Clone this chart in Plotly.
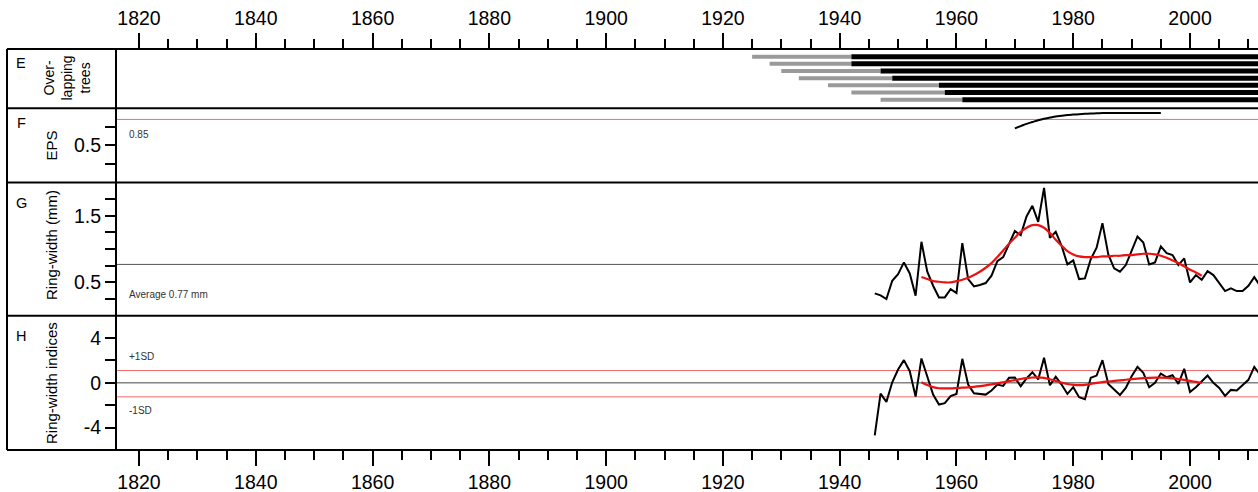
import plotly.graph_objects as go

# ---------------- data ----------------
tree_ids = [1, 2, 3, 4, 5, 6, 7]
tree_gray_start = [1925, 1928, 1930, 1933, 1938, 1942, 1947]
tree_black_start = [1942, 1942, 1947, 1949, 1957, 1958, 1961]
tree_end = [2012, 2012, 2012, 2012, 2012, 2012, 2012]

eps_years = list(range(1970, 1996))
eps_values = [0.73, 0.76, 0.79, 0.815, 0.84, 0.86, 0.875, 0.89, 0.90, 0.91,
              0.915, 0.92, 0.925, 0.93, 0.932, 0.935, 0.936, 0.937, 0.937, 0.937,
              0.937, 0.936, 0.936, 0.935, 0.935, 0.935]
eps_threshold = 0.85

rw_years = list(range(1946, 2013))
ring_width = [0.335, 0.305, 0.25, 0.524,
              0.624, 0.80, 0.635, 0.30, 1.11, 0.66, 0.45, 0.275, 0.275, 0.40,
              0.34, 1.09, 0.55, 0.44, 0.46, 0.49, 0.60, 0.82, 0.88, 1.07,
              1.27, 1.21, 1.49, 1.65, 1.41, 1.92, 1.17, 1.26, 1.05, 0.77,
              0.83, 0.55, 0.56, 0.85, 1.02, 1.39, 0.92, 0.71, 0.66, 0.76,
              0.97, 1.19, 1.10, 0.77, 0.80, 1.04, 0.94, 0.91, 0.76, 0.86,
              0.50, 0.61, 0.54, 0.67, 0.61, 0.49, 0.37, 0.41, 0.37, 0.37,
              0.45, 0.58, 0.45]
rw_average = 0.77

spline_years = list(range(1954, 2003))
rw_spline = [0.58, 0.55, 0.52, 0.51, 0.50, 0.50,
             0.52, 0.54, 0.57, 0.61, 0.66, 0.72, 0.79, 0.88, 0.98, 1.08,
             1.17, 1.26, 1.32, 1.36, 1.36, 1.32, 1.24, 1.14, 1.05, 0.97,
             0.92, 0.89, 0.88, 0.88, 0.88, 0.89, 0.89, 0.90, 0.90, 0.91,
             0.91, 0.92, 0.93, 0.93, 0.92, 0.90, 0.87, 0.83, 0.79, 0.74,
             0.69, 0.65, 0.60]

rw_index = [-4.69, -0.96, -1.70, 0.05,
            1.19, 2.03, 1.04, -1.23, 2.18, 0.50, -1.05, -1.94, -1.82, -1.19,
            -0.99, 2.15, -0.15, -0.93, -0.96, -1.05, -0.69, -0.15, -0.27, 0.45,
            0.47, -0.30, 0.39, 0.95, 0.30, 2.24, -0.21, 0.54, -0.15, -0.99,
            -0.39, -1.29, -1.47, 0.45, 0.65, 2.03, -0.09, -0.60, -1.08, -0.45,
            0.59, 1.43, 0.90, -0.39, 0.0, 0.83, 0.50, 0.68, -0.09, 1.25,
            -0.81, -0.39, 0.15, 0.65, 0.0, -0.45, -1.17, -0.63, -0.69, -0.21,
            0.27, 1.43, 0.74]
idx_spline = [0.05, -0.20, -0.38, -0.48, -0.50, -0.49,
              -0.46, -0.43, -0.40, -0.36, -0.30, -0.22, -0.13, -0.04, 0.05, 0.15,
              0.25, 0.34, 0.42, 0.48, 0.49, 0.44, 0.32, 0.17, 0.02, -0.10,
              -0.18, -0.20, -0.18, -0.10, 0.0, 0.07, 0.12, 0.17, 0.22, 0.28,
              0.33, 0.38, 0.42, 0.45, 0.46, 0.46, 0.44, 0.40, 0.34, 0.26,
              0.17, 0.08, 0.0]
plus_sd = 1.1
minus_sd = -1.25

x_major_ticks = [1820, 1840, 1860, 1880, 1900, 1920, 1940, 1960, 1980, 2000]
eps_tickvals = [0.25, 0.5, 0.75]
eps_ticktext = ["", "0.5", ""]
rw_tickvals = [0.25, 0.5, 0.75, 1.0, 1.25, 1.5, 1.75]
rw_ticktext = ["", "0.5", "", "", "", "1.5", ""]
idx_tickvals = [-4, -2, 0, 2, 4]
idx_ticktext = ["-4", "", "0", "", "4"]

# ---------------- figure ----------------
W, H = 1258, 492
ML, MT, MB = 116, 49, 42
plot_w = W - ML
plot_h = H - MT - MB
FONT = "Arial, Liberation Sans, sans-serif"


def py(ypx):
    return (H - MB - ypx) / plot_h


def px(xpx):
    return (xpx - ML) / plot_w


bounds = [49, 108.3, 182.5, 315.7, 450]
dom_E = [py(bounds[1]), 1.0]
dom_F = [py(bounds[2]), py(bounds[1])]
dom_G = [py(bounds[3]), py(bounds[2])]
dom_H = [0.0, py(bounds[3])]

x_range = [1816.06, 2011.64]

fig = go.Figure()

# Panel E: overlapping trees
gx, gy, bx, by = [], [], [], []
for t, g0, b0, e in zip(tree_ids, tree_gray_start, tree_black_start, tree_end):
    gx += [g0, b0, None]
    gy += [t, t, None]
    bx += [b0, e, None]
    by += [t, t, None]
fig.add_trace(go.Scatter(x=gx, y=gy, mode="lines", xaxis="x", yaxis="y",
                         line=dict(color="#9a9a9a", width=4), showlegend=False))
fig.add_trace(go.Scatter(x=bx, y=by, mode="lines", xaxis="x", yaxis="y",
                         line=dict(color="black", width=5), showlegend=False))

# Panel F: EPS
fig.add_trace(go.Scatter(x=eps_years, y=eps_values, mode="lines", xaxis="x2", yaxis="y2",
                         line=dict(color="black", width=2, shape="spline"), showlegend=False))

# Panel G: ring width
fig.add_trace(go.Scatter(x=rw_years, y=ring_width, mode="lines", xaxis="x3", yaxis="y3",
                         line=dict(color="black", width=2), showlegend=False))
fig.add_trace(go.Scatter(x=spline_years, y=rw_spline, mode="lines", xaxis="x3", yaxis="y3",
                         line=dict(color="#ee1111", width=2.2, shape="spline"), showlegend=False))

# Panel H: indices
fig.add_trace(go.Scatter(x=rw_years, y=rw_index, mode="lines", xaxis="x4", yaxis="y4",
                         line=dict(color="black", width=2), showlegend=False))
fig.add_trace(go.Scatter(x=spline_years, y=idx_spline, mode="lines", xaxis="x4", yaxis="y4",
                         line=dict(color="#ee1111", width=2.2, shape="spline"), showlegend=False))

shapes = []


def hline(yval, xa, ya, color, width=1):
    shapes.append(dict(type="line", xref=f"{xa} domain", yref=ya, x0=0, x1=1,
                       y0=yval, y1=yval, line=dict(color=color, width=width), layer="below"))


hline(eps_threshold, "x2", "y2", "#f26b6b")
hline(rw_average, "x3", "y3", "#555555")
hline(0, "x4", "y4", "#444444")
hline(plus_sd, "x4", "y4", "#f26b6b")
hline(minus_sd, "x4", "y4", "#f26b6b")

# frame lines
x_left = px(7)
for b in bounds:
    shapes.append(dict(type="line", xref="paper", yref="paper", x0=x_left, x1=1.0,
                       y0=py(b), y1=py(b), line=dict(color="black", width=2)))
shapes.append(dict(type="line", xref="paper", yref="paper", x0=x_left, x1=x_left,
                   y0=0, y1=1, line=dict(color="black", width=2)))
shapes.append(dict(type="line", xref="paper", yref="paper", x0=0, x1=0,
                   y0=0, y1=1, line=dict(color="black", width=2)))

annotations = []


def txt(xpx, ypx, text, size, angle=0, color="black", xanchor="center", align="center"):
    annotations.append(dict(xref="paper", yref="paper", x=px(xpx), y=py(ypx), text=text,
                            showarrow=False, textangle=angle, xanchor=xanchor, yanchor="middle",
                            align=align, font=dict(family=FONT, size=size, color=color)))


# panel letters
txt(21, 63, "E", 14.5)
txt(21, 123, "F", 14.5)
txt(21, 203, "G", 14.5)
txt(21, 336, "H", 14.5)
# axis titles
txt(66, 78.5, "Over-<br>lapping<br>trees", 14, angle=-90)
txt(51, 145.5, "EPS", 15, angle=-90)
txt(51, 245, "Ring-width (mm)", 15, angle=-90)
txt(51, 383, "Ring-width indices", 15, angle=-90)
# in-panel labels
txt(127, 134, "0.85", 10, color="#333333", xanchor="left")
txt(127, 294.5, "Average 0.77 mm", 10, color="#333333", xanchor="left")
txt(127, 356.5, "+1SD", 10, color="#333333", xanchor="left")
txt(127, 410.5, "-1SD", 10, color="#333333", xanchor="left")

common_x = dict(range=x_range, showgrid=False, zeroline=False, showline=False)
tick_x = dict(tickvals=x_major_ticks, ticks="outside", ticklen=15, tickwidth=2,
              tickcolor="black", tickfont=dict(family=FONT, size=19.5, color="black"),
              minor=dict(dtick=5, tick0=1820, ticks="outside", ticklen=9, tickwidth=2,
                         tickcolor="black", showgrid=False))
ytick = dict(ticks="outside", ticklen=10, tickwidth=2, tickcolor="black",
             tickfont=dict(family=FONT, size=19.5, color="black"),
             showgrid=False, zeroline=False, showline=False)

fig.update_layout(
    width=W, height=H,
    margin=dict(l=ML, r=0, t=MT, b=MB, pad=0),
    paper_bgcolor="white", plot_bgcolor="white",
    font=dict(family=FONT),
    showlegend=False,
    xaxis=dict(**common_x, **tick_x, side="top", anchor="y", domain=[0, 1]),
    xaxis2=dict(**common_x, anchor="y2", matches="x", showticklabels=False, ticks=""),
    xaxis3=dict(**common_x, anchor="y3", matches="x", showticklabels=False, ticks=""),
    xaxis4=dict(**common_x, **tick_x, side="bottom", anchor="y4", matches="x"),
    yaxis=dict(domain=dom_E, range=[8.2, -0.07], showticklabels=False, ticks="",
               showgrid=False, zeroline=False, showline=False, anchor="x"),
    yaxis2=dict(domain=dom_F, range=[0, 1], tickvals=eps_tickvals, ticktext=eps_ticktext,
                anchor="x2", **ytick),
    yaxis3=dict(domain=dom_G, range=[0, 2], tickvals=rw_tickvals, ticktext=rw_ticktext,
                anchor="x3", **ytick),
    yaxis4=dict(domain=dom_H, range=[-6, 6], tickvals=idx_tickvals, ticktext=idx_ticktext,
                anchor="x4", **ytick),
    shapes=shapes,
    annotations=annotations,
)

fig.write_html("out.html", config={"displayModeBar": False},
               post_script="document.body.style.margin='0px';document.body.style.padding='0px';")
